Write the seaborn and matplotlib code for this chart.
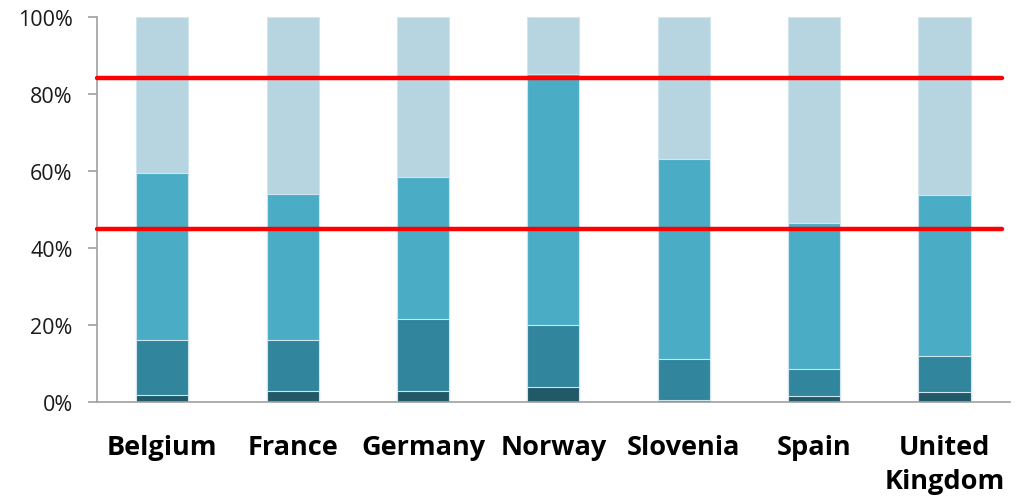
import matplotlib
matplotlib.use("Agg")
import matplotlib.pyplot as plt
import seaborn as sns
import pandas as pd
import numpy as np

# values (percent of each country's total)
countries = ['Belgium', 'France', 'Germany', 'Norway', 'Slovenia', 'Spain', 'United\nKingdom']
seg1 = [1.9, 3.0, 3.0, 4.0, 0.5, 1.6, 2.6]
seg2 = [14.2, 13.0, 18.5, 16.0, 10.6, 7.0, 9.4]
seg3 = [43.2, 37.9, 36.8, 65.0, 51.9, 37.9, 41.6]
seg4 = [40.7, 46.1, 41.7, 15.0, 37.0, 53.5, 46.4]
ref_lines = [84.0, 44.8]

colors = ['#215968', '#31859c', '#4bacc6', '#b7d5e0']

df = pd.DataFrame({'country': countries, 's1': seg1, 's2': seg2, 's3': seg3, 's4': seg4})
cum = df[['s1', 's2', 's3', 's4']].cumsum(axis=1)

sns.set_theme(style="white")
plt.rcParams['font.family'] = ['Open Sans', 'DejaVu Sans']

fig = plt.figure(figsize=(10.21, 5.02), dpi=100)
ax = fig.add_axes([0.095, 0.197, 0.894, 0.768])

# draw from tallest cumulative to shortest so each layer shows
for col, c in zip(['s4', 's3', 's2', 's1'], colors[::-1]):
    sns.barplot(x=df['country'], y=cum[col], color=c, width=0.4,
                edgecolor='#cfe6ee', linewidth=0.8, ax=ax, saturation=1)

for y in ref_lines:
    ax.axhline(y, xmin=0, xmax=0.992, color='#ff0000', lw=3.2, zorder=5, clip_on=False)

ax.set_ylim(0, 100)
ax.set_xlim(-0.5, 6.5)
ax.set_yticks(np.arange(0, 101, 20))
ax.set_yticklabels([f'{v}%' for v in range(0, 101, 20)], fontsize=15.5, color='#1a1a1a')
ax.set_xlabel('')
ax.set_ylabel('')
ax.tick_params(axis='x', which='major', length=0, pad=23, labelsize=19.5)
for lbl in ax.get_xticklabels():
    lbl.set_fontweight('bold')
    lbl.set_color('black')
    lbl.set_linespacing(1.4)
ax.set_xticks(np.arange(-0.5, 7, 1), minor=True)
ax.tick_params(axis='x', which='minor', length=6, color='#a0a0a0', width=1.2, direction='out')
ax.tick_params(axis='y', length=6.5, color='#a0a0a0', width=1.2, direction='out', left=True, pad=11)

for side in ['top', 'right']:
    ax.spines[side].set_visible(False)
for side in ['left', 'bottom']:
    ax.spines[side].set_color('#a0a0a0')
    ax.spines[side].set_linewidth(1.2)

fig.savefig('out.png', dpi=100)
